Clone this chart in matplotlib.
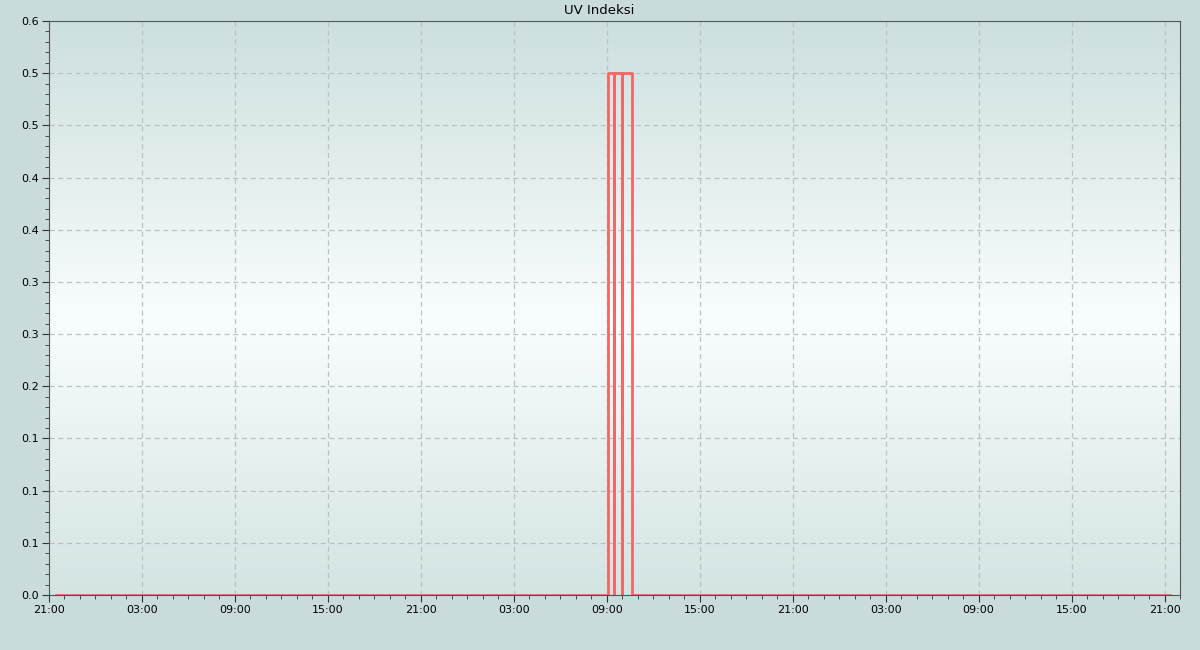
import matplotlib
matplotlib.use("Agg")
import matplotlib.pyplot as plt
import matplotlib.dates as mdates
from matplotlib.colors import LinearSegmentedColormap
import numpy as np
import pandas as pd

# UV index readings (step series)
times = ["2024-06-01 21:27", "2024-06-03 09:04", "2024-06-03 09:27", "2024-06-03 09:28",
         "2024-06-03 09:59", "2024-06-03 10:00", "2024-06-03 10:36", "2024-06-04 21:22"]
uv = [0.0, 0.5, 0.0, 0.5, 0.0, 0.5, 0.0, 0.0]

x_start, x_end = "2024-06-01 21:00", "2024-06-04 22:00"
y_ticks = [0.0, 0.05, 0.10, 0.15, 0.20, 0.25, 0.30, 0.35, 0.40, 0.45, 0.50, 0.55]
y_labels = ["0.0", "0.1", "0.1", "0.1", "0.2", "0.3", "0.3", "0.4", "0.4", "0.5", "0.5", "0.6"]

t = pd.to_datetime(times)

fig = plt.figure(figsize=(12, 6.5), dpi=100, facecolor="#c9dcdb")
ax = fig.add_axes([49 / 1200, 1 - 595 / 650, 1131 / 1200, 574 / 650])

# vertical background gradient
cmap = LinearSegmentedColormap.from_list(
    "bg", [(0, "#d3e4e3"), (0.48, "#f9fdfd"), (1, "#cddfdf")])
grad = np.linspace(0, 1, 256).reshape(-1, 1)
ax.imshow(grad, aspect="auto", cmap=cmap, origin="lower",
          extent=[0, 1, 0, 1], transform=ax.transAxes, zorder=0)

ax.plot(t, uv, drawstyle="steps-post", color="#f26767", lw=2, zorder=3)

ax.set_xlim(pd.Timestamp(x_start), pd.Timestamp(x_end))
ax.set_ylim(0, 0.55)
ax.set_yticks(y_ticks)
ax.set_yticklabels(y_labels)
ax.yaxis.set_minor_locator(matplotlib.ticker.MultipleLocator(0.01))

ax.xaxis.set_major_locator(mdates.HourLocator(byhour=[3, 9, 15, 21]))
ax.xaxis.set_minor_locator(mdates.HourLocator(interval=1))
ax.xaxis.set_major_formatter(mdates.DateFormatter("%H:%M"))

ax.grid(True, which="major", ls=(0, (4, 3)), color="#bcc0c0", lw=0.9, zorder=1)
ax.tick_params(which="major", length=5, labelsize=8, color="#333333", pad=2)
ax.tick_params(which="minor", length=3, color="#333333")
for s in ax.spines.values():
    s.set_color("#555555")
    s.set_zorder(4)

fig.text(0.4995, 1 - 11 / 650, "UV Indeksi", fontsize=9.5, ha="center", va="center")

fig.savefig("out.png", dpi=100, facecolor=fig.get_facecolor())
